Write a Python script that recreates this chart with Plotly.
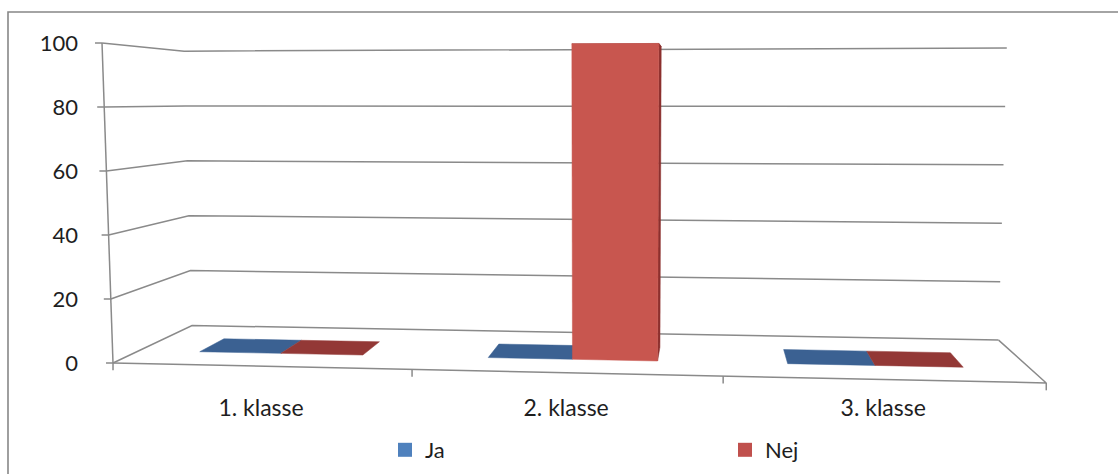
import plotly.graph_objects as go

# ---- data -------------------------------------------------------------
categories = ["1. klasse", "2. klasse", "3. klasse"]
series_names = ["Ja", "Nej"]
ja_values = [0, 0, 0]
nej_values = [0, 100, 0]
value_ticks = [0, 20, 40, 60, 80, 100]

# ---- styling ----------------------------------------------------------
FONT = "Lato, 'Open Sans', sans-serif"
GRID = "#8a8a8a"
COLORS = {
    "Ja": {"legend": "#4F81BD", "top": "#3B6192", "front": "#4F81BD", "side": "#35577F"},
    "Nej": {"legend": "#C0504D", "top": "#933836", "front": "#C8564F", "side": "#8C302E"},
}

# ---- pseudo-3D view, expressed in axis units ----------------------------
# front plane = (category axis, value axis); depth t runs 0 (front) .. 1 (back)
X_LEFT, X_RIGHT = -0.5, len(categories) - 0.5
Z_MIN, Z_MAX = 0, 100
XV, ZV = 1.439, 82.2          # vanishing point of the depth direction
KX, KZ = 0.1632, 0.174        # foreshortening with depth
TURN_A, TURN_B = 0.9405, 0.0198   # box turned slightly: right side nearer
TILT = 0.0253
LEAN, XC = 0.000226, 1.064    # verticals lean in slightly towards the bottom
BAR_W = 0.285
T_FRONT, T_BACK = 0.30, 0.64
X_RANGE = [-0.8630, 2.7281]
Y_RANGE = [-34.69, 113.44]


def project(x, z, t):
    x1 = XV + (x - XV) / (1 + KX * t)
    z1 = ZV + (z - ZV) / (1 + KZ * t)
    u = x1 - X_LEFT
    x2 = X_LEFT + u * (TURN_A + TURN_B * u)
    z2 = ZV + (z1 - ZV) * (1 + TILT * (x2 - X_LEFT))
    x3 = x2 + LEAN * z2 * (x2 - XC)
    return x3, z2


def polyline(points):
    xs, ys = [], []
    for p in points:
        px, py = project(*p)
        xs.append(px)
        ys.append(py)
    return xs, ys


fig = go.Figure()

# walls: side wall + back wall gridlines, floor outline, front edges, ticks
gx, gy = [], []


def add_line(points):
    global gx, gy
    xs, ys = polyline(points)
    gx += xs + [None]
    gy += ys + [None]


for v in value_ticks:
    add_line([(X_LEFT, v, 0), (X_LEFT, v, 1), (X_RIGHT, v, 1)])
add_line([(X_LEFT, Z_MIN, 0), (X_RIGHT, Z_MIN, 0), (X_RIGHT, Z_MIN, 1)])
add_line([(X_LEFT, Z_MIN, 0), (X_LEFT, Z_MAX, 0)])
for v in value_ticks:
    tx, ty = project(X_LEFT, v, 0)
    gx += [tx, tx - 0.0225, None]
    gy += [ty, ty, None]
for i in range(len(categories) + 1):
    bx, by = project(X_LEFT + i, Z_MIN, 0)
    gx += [bx, bx, None]
    gy += [by, by - 2.3, None]

fig.add_trace(go.Scatter(
    x=gx, y=gy, mode="lines", line=dict(color=GRID, width=1.5),
    hoverinfo="skip", showlegend=False,
))


def face(points, color):
    xs, ys = polyline(points + [points[0]])
    fig.add_trace(go.Scatter(
        x=xs, y=ys, mode="lines", fill="toself", fillcolor=color,
        line=dict(color=color, width=0.5), hoverinfo="skip", showlegend=False,
    ))


# bars, hidden faces first
for ci, cat in enumerate(categories):
    for si, (name, vals) in enumerate(zip(series_names, [ja_values, nej_values])):
        v = vals[ci]
        xl = ci - BAR_W + si * BAR_W
        xr = xl + BAR_W
        c = COLORS[name]
        face([(xl, v, T_FRONT), (xr, v, T_FRONT), (xr, v, T_BACK), (xl, v, T_BACK)], c["top"])
        if v > 0:
            if xr < XV:
                face([(xr, 0, T_FRONT), (xr, 0, T_BACK), (xr, v, T_BACK), (xr, v, T_FRONT)], c["side"])
            if xl > XV:
                face([(xl, 0, T_FRONT), (xl, 0, T_BACK), (xl, v, T_BACK), (xl, v, T_FRONT)], c["side"])
            face([(xl, 0, T_FRONT), (xr, 0, T_FRONT), (xr, v, T_FRONT), (xl, v, T_FRONT)], c["front"])

# legend entries
for name in series_names:
    fig.add_trace(go.Scatter(
        x=[None], y=[None], mode="markers", name=name,
        marker=dict(symbol="square", size=14, color=COLORS[name]["legend"]),
    ))

# category labels sit under the centre of each category on the front floor edge
cat_tick_x = [project(i, Z_MIN, 0)[0] for i in range(len(categories))]

fig.update_layout(
    width=1118, height=474,
    margin=dict(l=0, r=0, t=0, b=0),
    paper_bgcolor="white", plot_bgcolor="white",
    font=dict(family=FONT, size=22, color="#1e1e1e"),
    xaxis=dict(
        range=X_RANGE, domain=[0, 1], anchor="free", position=1 - 392 / 474,
        tickmode="array", tickvals=cat_tick_x, ticktext=categories,
        ticks="", showgrid=False, zeroline=False, showline=False, fixedrange=True,
        tickfont=dict(size=23),
    ),
    yaxis=dict(
        range=Y_RANGE, domain=[0, 1], anchor="free", position=86 / 1118,
        tickmode="array", tickvals=value_ticks, ticks="", ticklabelstandoff=8,
        showgrid=False, zeroline=False, showline=False, fixedrange=True,
    ),
    legend=dict(
        orientation="h", x=385 / 1118, y=1 - 450 / 474, xanchor="left", yanchor="middle",
        entrywidth=295, font=dict(size=22), bgcolor="rgba(0,0,0,0)",
    ),
    shapes=[dict(
        type="rect", xref="paper", yref="paper", x0=8 / 1118, x1=1.05,
        y0=-0.05, y1=1 - 12 / 474, line=dict(color="#878787", width=1.6),
    )],
)

fig.write_html("out.html")
